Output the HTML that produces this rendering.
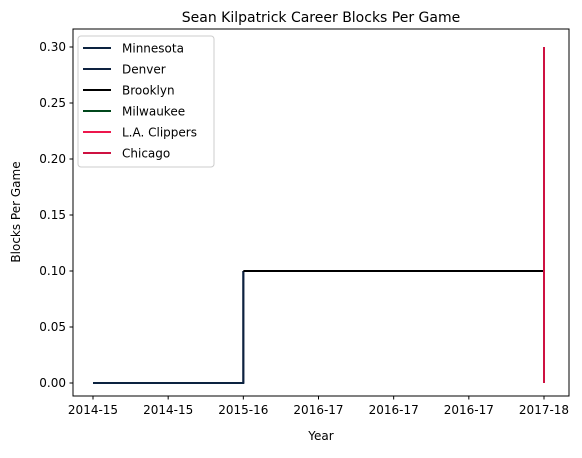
<!DOCTYPE html>
<html><head><meta charset="utf-8"><style>
body{margin:0;background:#fff}
svg text{font-family:"DejaVu Sans","Liberation Sans",sans-serif;fill:#000}
</style></head><body>
<svg id="chart" width="582" height="453" viewBox="0 0 582 453">
<text x="321" y="22" font-size="14" text-anchor="middle">Sean Kilpatrick Career Blocks Per Game</text>
<g id="grid"></g>
<g id="series"></g>
<rect x="73" y="29" width="496" height="367" fill="none" stroke="#000" stroke-width="1"/>
<text x="321" y="440" font-size="12" text-anchor="middle">Year</text>
<text transform="translate(20,212) rotate(-90)" font-size="12" text-anchor="middle">Blocks Per Game</text>
<g id="legend"></g>
</svg>
<script>
const xTicks=[2014,2014.5,2015,2015.5,2016,2016.5,2017];
const xTickLabels=["2014-15","2014-15","2015-16","2016-17","2016-17","2016-17","2017-18"];
const yTicks=[0,0.05,0.10,0.15,0.20,0.25,0.30];
const teams=["Minnesota","Denver","Brooklyn","Milwaukee","L.A. Clippers","Chicago"];
const teamColors=["#0C2340","#0E2240","#000000","#00471B","#ED174C","#CE1141"];
const minnesotaX=[2014,2015,2015];const minnesotaY=[0,0,0.1];
const denverX=[2015,2015];const denverY=[0,0.1];
const brooklynX=[2015,2017];const brooklynY=[0.1,0.1];
const milwaukeeX=[2017];const milwaukeeY=[0.1];
const clippersX=[2017,2017];const clippersY=[0,0.3];
const chicagoX=[2017,2017];const chicagoY=[0.3,0];
const seriesX=[minnesotaX,denverX,brooklynX,milwaukeeX,clippersX,chicagoX];
const seriesY=[minnesotaY,denverY,brooklynY,milwaukeeY,clippersY,chicagoY];
const NS="http://www.w3.org/2000/svg";
const sx=v=>93+(v-2014)*(451/3);
const sy=v=>383-v*(336/0.3);
const g=document.getElementById("grid"),s=document.getElementById("series"),lg=document.getElementById("legend");
function mk(t,a,p){const e=document.createElementNS(NS,t);for(const k in a)e.setAttribute(k,a[k]);p.appendChild(e);return e;}
xTicks.forEach((v,i)=>{
 const l=mk("line",{x1:sx(v),x2:sx(v),y1:396,y2:399.5,stroke:"#000"},g);
 
 
 const t=mk("text",{x:sx(v),y:414,"font-size":"12","text-anchor":"middle"},g);t.textContent=xTickLabels[i];
 
 
});
yTicks.forEach(v=>{
 const l=mk("line",{x1:69.5,x2:73,y1:sy(v),y2:sy(v),stroke:"#000"},g);
 
 
 const t=mk("text",{x:66,y:sy(v)+4,"font-size":"12","text-anchor":"end"},g);t.textContent=v.toFixed(2);
 
 
});
teams.forEach((n,i)=>{
 const pts=seriesX[i].map((x,j)=>sx(x)+","+sy(seriesY[i][j])).join(" ");
 const p=mk("polyline",{points:pts,fill:"none",stroke:teamColors[i],"stroke-width":"2"},s);
 
 
});
const box=mk("rect",{x:78,y:36,width:136,height:131,rx:3,fill:"#fff",stroke:"#ccc","fill-opacity":"0.8"},lg);


teams.forEach((n,i)=>{
 const y=48+i*21;
 const l=mk("line",{x1:83,x2:111,y1:y,y2:y,stroke:teamColors[i],"stroke-width":"2"},lg);
 
 
 const t=mk("text",{x:122,y:y+4.5,"font-size":"12"},lg);t.textContent=n;
 
 
});
</script>
</body></html>
